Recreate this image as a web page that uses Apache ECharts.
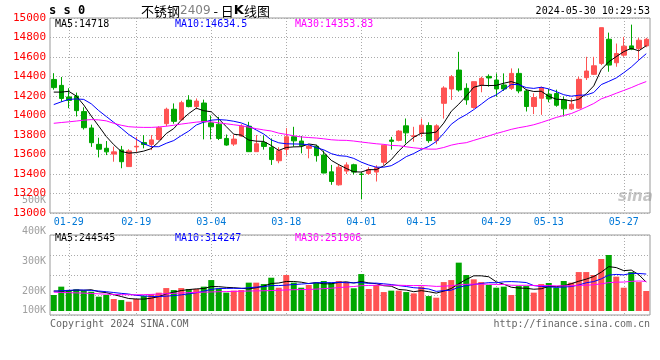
<!DOCTYPE html>
<html><head><meta charset="utf-8">
<script src="https://cdn.jsdelivr.net/npm/echarts@6/dist/echarts.min.js"></script>
<style>html,body{margin:0;padding:0;background:#fff}#c{width:660px;height:360px}</style>
</head><body><div id="c"></div>
<script>
const dates = [
 '01-25','01-26','01-29','01-30','01-31','02-01','02-02','02-05','02-06','02-07',
 '02-08','02-19','02-20','02-21','02-22','02-23','02-26','02-27','02-28','02-29',
 '03-01','03-04','03-05','03-06','03-07','03-08','03-11','03-12','03-13','03-14',
 '03-15','03-18','03-19','03-20','03-21','03-22','03-25','03-26','03-27','03-28',
 '03-29','04-01','04-02','04-03','04-08','04-09','04-10','04-11','04-12','04-15',
 '04-16','04-17','04-18','04-19','04-22','04-23','04-24','04-25','04-26','04-29',
 '04-30','05-06','05-07','05-08','05-09','05-10','05-13','05-14','05-15','05-16',
 '05-17','05-20','05-21','05-22','05-23','05-24','05-27','05-28','05-29','05-30'];
const labelDates = ['01-29','02-19','03-04','03-18','04-01','04-15','04-29','05-13','05-27'];
const opens = [
 14370,14309,14190,14200,14040,13872,13704,13664,13604,13647,
 13476,13678,13722,13704,13755,13916,14064,13956,14158,14091,
 14128,13925,13911,13765,13707,13789,13890,13629,13722,13673,
 13536,13653,13782,13738,13663,13684,13595,13422,13289,13430,
 13495,13400,13405,13420,13520,13748,13745,13894,13785,13816,
 13897,13742,14125,14272,14466,14279,14082,14313,14401,14364,
 14313,14279,14432,14252,14092,14177,14218,14225,14160,14068,
 14075,14388,14422,14534,14782,14541,14619,14714,14687,14714];
const closes = [
 14286,14175,14155,14050,13875,13721,13654,13627,13627,13526,
 13637,13684,13702,13750,13875,14064,13940,14131,14091,14148,
 13935,13884,13765,13697,13758,13891,13629,13710,13683,13548,
 13639,13782,13740,13690,13687,13588,13410,13323,13470,13493,
 13420,13395,13445,13465,13695,13735,13840,13822,13792,13901,
 13742,13894,14282,14398,14262,14160,14347,14381,14385,14272,
 14272,14432,14252,14092,14184,14286,14170,14105,14068,14116,
 14371,14456,14510,14901,14517,14636,14711,14680,14772,14782];
const lows = [
 14265,14140,14075,13990,13856,13678,13570,13594,13526,13459,
 13476,13627,13663,13645,13745,13890,13916,13956,14084,14064,
 13755,13755,13748,13690,13688,13780,13629,13629,13650,13493,
 13510,13590,13680,13612,13561,13527,13408,13289,13280,13400,
 13395,13140,13390,13323,13490,13650,13735,13714,13731,13780,
 13720,13705,13969,14160,14245,14110,14070,14238,14296,14194,
 14252,14262,14228,14041,14014,14007,14136,14090,13990,14058,
 14068,14364,14415,14517,14449,14500,14602,14670,14568,14700];
const highs = [
 14434,14395,14280,14235,14084,13906,13772,13738,13681,13688,
 13654,13782,13799,13799,13890,14080,14124,14151,14208,14175,
 14163,14000,13986,13805,13805,13910,13935,13800,13795,13765,
 13675,13870,13884,13790,13700,13700,13640,13493,13500,13520,
 13505,13420,13470,13490,13700,13780,13850,13969,13884,13969,
 13930,13910,14300,14415,14653,14330,14347,14398,14422,14432,
 14432,14483,14483,14269,14228,14296,14272,14265,14194,14177,
 14398,14602,14602,14901,14850,14738,14806,14932,14796,14796];
const ma5 = [
 14240,14240,14248,14200,14108,13995,13891,13785,13701,13631,
 13614,13620,13635,13660,13730,13815,13866,13952,14020,14075,
 14049,14038,13965,13886,13808,13799,13748,13737,13734,13692,
 13642,13672,13678,13680,13708,13697,13623,13540,13496,13457,
 13423,13420,13445,13444,13484,13547,13636,13711,13777,13818,
 13819,13830,13922,14043,14116,14199,14290,14310,14307,14309,
 14331,14348,14323,14264,14246,14249,14197,14167,14163,14149,
 14166,14223,14304,14471,14551,14604,14655,14689,14663,14716];
const ma10 = [
 14112,14140,14165,14170,14165,14120,14050,13990,13930,13870,
 13805,13756,13710,13680,13680,13715,13743,13794,13840,13902,
 13932,13952,13958,13953,13941,13924,13893,13851,13810,13750,
 13720,13710,13708,13707,13700,13670,13648,13609,13588,13582,
 13560,13522,13492,13470,13470,13485,13528,13578,13610,13651,
 13683,13733,13817,13910,13967,14009,14060,14116,14175,14212,
 14265,14319,14316,14286,14278,14290,14273,14245,14213,14198,
 14208,14210,14236,14317,14350,14385,14439,14497,14567,14634];
const ma30 = [
 13920,13928,13935,13943,13952,13958,13955,13945,13920,13900,
 13885,13880,13878,13878,13882,13890,13900,13912,13922,13932,
 13938,13935,13925,13915,13905,13895,13880,13865,13852,13841,
 13819,13806,13792,13780,13774,13769,13761,13751,13746,13745,
 13738,13728,13719,13710,13704,13693,13690,13679,13669,13661,
 13655,13655,13672,13696,13712,13721,13745,13768,13791,13815,
 13836,13858,13875,13888,13905,13928,13954,13980,14000,14020,
 14052,14087,14123,14171,14198,14228,14257,14286,14319,14348];
const volumeK = [
 136,207,178,184,173,164,122,136,102,93,
 79,102,127,144,156,195,178,195,187,187,
 207,263,193,156,173,178,241,241,229,283,
 198,306,241,198,221,241,255,241,255,246,
 193,314,187,221,161,173,173,161,150,207,
 127,113,246,263,411,306,269,246,221,198,
 207,136,212,212,156,229,238,198,255,241,
 331,331,306,442,476,292,198,331,246,170];
const volMa5K = [
 170,168,172,178,176,181,164,156,139,123,
 106,102,101,109,122,145,160,174,182,188,
 191,208,207,201,198,193,188,198,212,234,
 238,251,251,245,233,241,231,231,243,248,
 238,250,239,232,215,211,183,178,164,173,
 164,152,169,191,232,268,299,299,291,248,
 228,202,195,193,185,189,209,207,215,232,
 253,271,293,330,377,369,343,348,309,245];
const volMa10K = [
 168,172,176,178,178,175,170,164,157,150,
 144,133,128,124,123,126,131,137,146,155,
 168,184,191,192,193,192,198,203,207,216,
 216,220,225,229,234,240,241,241,244,240,
 240,241,235,237,231,225,216,208,198,194,
 187,167,173,177,202,216,225,234,241,240,
 248,250,247,242,216,209,206,201,204,208,
 221,240,250,273,305,311,307,320,319,314];
const volMa30K = [
 160,158,156,154,152,149,146,143,141,139,
 138,138,139,141,144,147,150,153,156,158,
 160,162,164,165,167,168,170,171,172,174,
 176,179,181,182,183,186,190,194,199,204,
 208,215,217,219,219,219,219,217,216,217,
 214,209,211,215,222,227,228,228,228,225,
 225,219,218,219,217,216,216,214,214,214,
 219,219,223,231,241,245,246,252,255,252];
const volTickLabels = ['500K','400K','300K','200K','100K'];
const priceLegend = ['MA5:14718','MA10:14634.5','MA30:14353.83'];
const volLegend = ['MA5:244545','MA10:314247','MA30:251906'];

// ---- layout / style ----
const volTickY = [200, 231, 261, 291, 310];
const legendX = [55, 175, 295];
const RED = '#ff5353', GREEN = '#00a600';
const MONO = '"DejaVu Sans Mono", monospace';
const gridDot = {color: '#aaaaaa', width: 1, type: [1, 2]};
const isLabel = (i, v) => labelDates.indexOf(v) >= 0;

const kData = dates.map((d, i) => [opens[i], closes[i], lows[i], highs[i]]);
const volData = volumeK.map((v, i) => ({
  value: v,
  itemStyle: {color: closes[i] >= opens[i] ? RED : GREEN}
}));

const lineS = (name, data, color, xi, yi) => ({
  name, type: 'line', data, xAxisIndex: xi, yAxisIndex: yi,
  showSymbol: false, symbol: 'none', smooth: false, silent: true,
  lineStyle: {color, width: 1}, itemStyle: {color}, z: 5
});

const txt = (x, y, text, font, fill, align) => ({
  type: 'text', x, y, silent: true,
  style: {text, font, fill, align: align || 'left', textAlign: align || 'left',
          verticalAlign: 'middle', textVerticalAlign: 'middle'}
});

const graphic = [
  txt(49, 11, 's s 0', 'bold 12px ' + MONO, '#000'),
  {type: 'text', x: 141, y: 11, silent: true,
   style: {text: '{a|不锈钢}{g|2409}{a| - 日}{k|K}{a|线图}',
     verticalAlign: 'middle', textVerticalAlign: 'middle',
     rich: {
       a: {fontFamily: 'Noto Sans CJK SC', fontSize: 13, fill: '#000'},
       g: {fontFamily: 'DejaVu Sans', fontSize: 12, fill: '#808080'},
       k: {fontFamily: 'DejaVu Sans', fontSize: 13, fontWeight: 'bold', fill: '#000'}
     }}},
  txt(650, 11, '2024-05-30 10:29:53', '10px ' + MONO, '#000', 'right'),
  txt(legendX[0], 24, priceLegend[0], '10px ' + MONO, '#000'),
  txt(legendX[1], 24, priceLegend[1], '10px ' + MONO, '#0000ff'),
  txt(legendX[2], 24, priceLegend[2], '10px ' + MONO, '#ff00ff'),
  txt(legendX[0], 238, volLegend[0], '10px ' + MONO, '#000'),
  txt(legendX[1], 238, volLegend[1], '10px ' + MONO, '#0000ff'),
  txt(legendX[2], 238, volLegend[2], '10px ' + MONO, '#ff00ff'),
  txt(50, 324, 'Copyright 2024 SINA.COM', '10px ' + MONO, '#666'),
  txt(650, 324, 'http://finance.sina.com.cn', '10px ' + MONO, '#666', 'right'),
  txt(618, 197, 'sina', 'italic bold 15px "DejaVu Sans"', 'rgba(150,150,150,0.55)')
].concat(volTickLabels.map((t, i) => txt(46, volTickY[i], t, '10px ' + MONO, '#a0a0a0', 'right')));

const option = {
  animation: false,
  backgroundColor: '#fff',
  grid: [
    {left: 50, right: 10, top: 18, height: 195, show: true, borderColor: '#999', borderWidth: 1, outerBoundsMode: 'none'},
    {left: 50, right: 10, top: 235, height: 80, show: true, borderColor: '#999', borderWidth: 1, outerBoundsMode: 'none'}
  ],
  xAxis: [
    {type: 'category', gridIndex: 0, data: dates, boundaryGap: true,
     axisLine: {show: false}, axisTick: {show: false},
     axisLabel: {interval: isLabel, color: '#0078d7', fontFamily: MONO, fontSize: 10, margin: 4, hideOverlap: false},
     splitLine: {show: true, interval: isLabel, alignWithLabel: true, lineStyle: gridDot}},
    {type: 'category', gridIndex: 1, data: dates, boundaryGap: true,
     axisLine: {show: false}, axisTick: {show: false}, axisLabel: {show: false},
     splitLine: {show: true, interval: isLabel, alignWithLabel: true, lineStyle: gridDot}}
  ],
  yAxis: [
    {type: 'value', gridIndex: 0, min: 13000, max: 15000, interval: 200,
     axisLine: {show: false}, axisTick: {show: false},
     axisLabel: {color: '#ff0000', fontFamily: MONO, fontSize: 11, margin: 4, showMinLabel: true, showMaxLabel: true,
                 formatter: v => String(v)},
     splitLine: {show: true, lineStyle: gridDot}},
    {type: 'value', gridIndex: 1, min: -34, max: 646,
     axisLine: {show: false}, axisTick: {show: false}, axisLabel: {show: false},
     splitLine: {show: false}},
    {type: 'value', gridIndex: 1, min: 0, max: 80, interval: 20, position: 'right',
     axisLine: {show: false}, axisTick: {show: false}, axisLabel: {show: false},
     splitLine: {show: true, lineStyle: gridDot}}
  ],
  series: [
    {name: 'K', type: 'candlestick', xAxisIndex: 0, yAxisIndex: 0, data: kData,
     barWidth: 5, silent: true,
     itemStyle: {color: RED, color0: GREEN, borderColor: RED, borderColor0: GREEN, borderWidth: 1}},
    lineS('MA5', ma5, '#000000', 0, 0),
    lineS('MA10', ma10, '#0000ff', 0, 0),
    lineS('MA30', ma30, '#ff00ff', 0, 0),
    {name: 'VOL', type: 'bar', xAxisIndex: 1, yAxisIndex: 1, data: volData, barWidth: 6, silent: true},
    lineS('VMA5', volMa5K, '#000000', 1, 1),
    lineS('VMA10', volMa10K, '#0000ff', 1, 1),
    lineS('VMA30', volMa30K, '#ff00ff', 1, 1)
  ],
  graphic: graphic
};
const chart = echarts.init(document.getElementById('c'), null, {renderer: 'canvas'});
chart.setOption(option);
</script>
</body></html>
